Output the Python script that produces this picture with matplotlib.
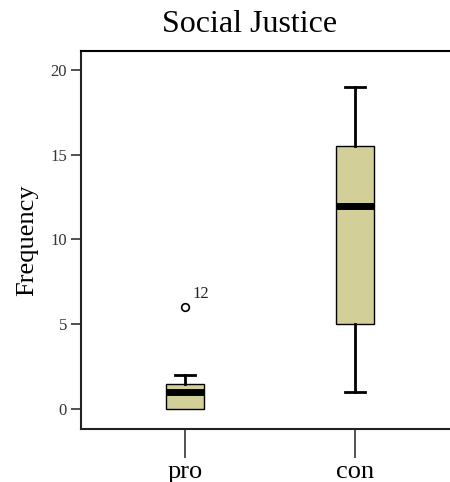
import matplotlib
matplotlib.use("Agg")
import matplotlib.pyplot as plt

categories = ["pro", "con"]
q1 = [0.0, 5.0]
med = [1.0, 12.0]
q3 = [1.5, 15.5]
whislo = [0.0, 1.0]
whishi = [2.0, 19.0]
outliers = [[6.0], []]
outlier_labels = [["12"], []]
yticks = [0, 5, 10, 15, 20]

plt.rcParams['font.family'] = ['Liberation Serif', 'DejaVu Serif']

fig = plt.figure(figsize=(4.5, 4.82), dpi=100)
ax = fig.add_axes([81/450, 1 - 429/482, (452-81)/450, (429-51)/482])

stats = []
for i, c in enumerate(categories):
    stats.append(dict(label=c, q1=q1[i], med=med[i], q3=q3[i],
                      whislo=whislo[i], whishi=whishi[i], fliers=outliers[i]))

positions = [1, 2]
res = ax.bxp(stats, positions=positions, widths=0.225, patch_artist=True,
       boxprops=dict(facecolor="#D3CF99", edgecolor="black", linewidth=1.0),
       medianprops=dict(color="black", linewidth=5, solid_capstyle="butt"),
       whiskerprops=dict(color="black", linewidth=2.0),
       capprops=dict(color="black", linewidth=2.0),
       capwidths=0.115,
       flierprops=dict(marker="o", markerfacecolor="white", markeredgecolor="black",
                       markersize=5.5, markeredgewidth=1.2))
# hide caps that coincide with the box edge
for i in range(len(categories)):
    if whislo[i] == q1[i]:
        res['caps'][2*i].set_visible(False)
    if whishi[i] == q3[i]:
        res['caps'][2*i+1].set_visible(False)

for i, labs in enumerate(outlier_labels):
    for v, lab in zip(outliers[i], labs):
        ax.annotate(lab, xy=(positions[i], v), xytext=(5, 4), textcoords="offset points",
                    fontsize=12, ha="left", va="bottom", color="#222222")

ax.set_xlim(0.388, 2.57)
ax.set_ylim(-1.18, 21.12)
ax.set_yticks(yticks)
ax.set_yticklabels([str(t) for t in yticks], fontsize=12)
ax.set_xticks(positions)
ax.set_xticklabels(categories, fontsize=19)
ax.tick_params(axis="y", direction="out", length=7, width=1.2, color="#333333", pad=3, labelcolor="#333333")
ax.tick_params(axis="x", direction="out", length=21, width=1.2, color="#333333", pad=2)
for s in ["left", "bottom", "top"]:
    ax.spines[s].set_linewidth(1.5)
    ax.spines[s].set_color("#222222")
ax.spines["top"].set_color("black")
ax.spines["right"].set_visible(False)

ax.set_ylabel("Frequency", fontsize=19, labelpad=9)
fig.text(250/450, 1 - 25/482, "Social Justice", fontsize=23, ha="center", va="center")

fig.savefig("out.png", dpi=100)
